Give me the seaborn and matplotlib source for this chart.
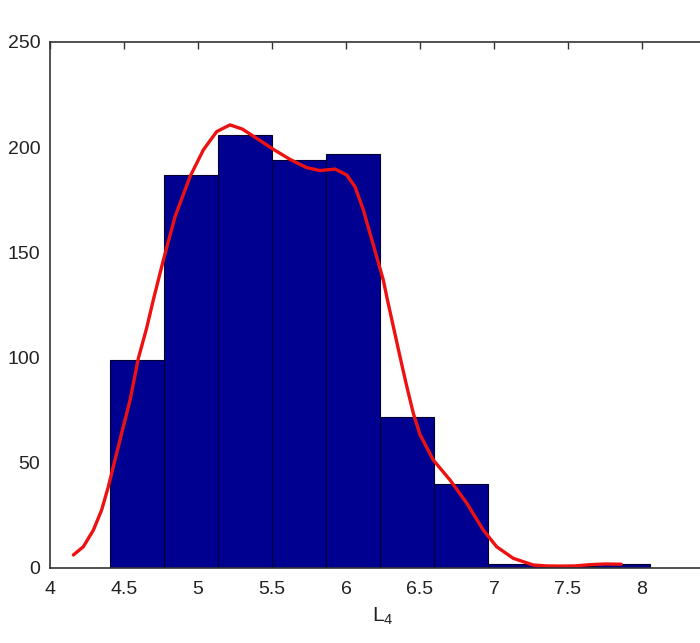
import matplotlib
matplotlib.use('Agg')
import matplotlib.pyplot as plt
import seaborn as sns

# histogram bins
bin_edges = [4.405, 4.77, 5.135, 5.5, 5.865, 6.23, 6.595, 6.96, 7.325, 7.69, 8.054]
bin_counts = [99, 187, 206, 194, 197, 72, 40, 2, 1, 2]

# red density curve (scaled to counts)
curve_x = [4.158, 4.225, 4.293, 4.349, 4.394, 4.439, 4.484, 4.541, 4.597, 4.653,
           4.698, 4.766, 4.845, 4.946, 5.036, 5.126, 5.216, 5.300, 5.397, 5.509,
           5.622, 5.734, 5.824, 5.926, 6.005, 6.061, 6.117, 6.162, 6.207, 6.252,
           6.28, 6.32, 6.365, 6.41, 6.455, 6.5, 6.59, 6.703, 6.816, 6.928,
           7.018, 7.13, 7.266, 7.35, 7.45, 7.55, 7.65, 7.75, 7.86]
curve_y = [6.2, 10.1, 18, 27.6, 38.6, 51.3, 64, 79.8, 99.7, 114,
           127.4, 146.4, 167, 186, 198.7, 207.4, 210.6, 208.6, 204.2, 199,
           194.2, 190.3, 188.9, 189.6, 186.8, 181.2, 170.2, 159.1, 148, 136.9,
           127.4, 114.7, 100.4, 86.5, 73.5, 63.4, 51.3, 41.8, 30.8, 18,
           10.1, 4.6, 1.4, 1.0, 0.9, 1.0, 1.6, 1.9, 1.8]

x_ticks = [4, 4.5, 5, 5.5, 6, 6.5, 7, 7.5, 8, 8.5]
x_labels = ['4', '4.5', '5', '5.5', '6', '6.5', '7', '7.5', '8', '']
y_ticks = [0, 50, 100, 150, 200, 250]

sns.set_style('white')
plt.rcParams['font.family'] = ['Liberation Sans', 'DejaVu Sans']
plt.rcParams['mathtext.fontset'] = 'custom'
plt.rcParams['mathtext.rm'] = 'Liberation Sans'

fig = plt.figure(figsize=(7, 6.43), dpi=100)
# axes runs off the right edge, as in the cropped original
ax = fig.add_axes([50 / 700, 75 / 643, 666 / 700, 526 / 643])

centers = [(bin_edges[i] + bin_edges[i + 1]) / 2 for i in range(len(bin_counts))]
sns.histplot(x=centers, weights=bin_counts, bins=bin_edges, color='#000090',
             edgecolor='#000030', linewidth=0.8, alpha=1, ax=ax)
sns.lineplot(x=curve_x, y=curve_y, sort=False, color='#ee1111', linewidth=2.4, ax=ax)

ax.set_xlim(4, 8.5)
ax.set_ylim(0, 250)
ax.set_xticks(x_ticks)
ax.set_xticklabels(x_labels)
ax.set_yticks(y_ticks)
ax.tick_params(direction='in', length=5, width=1, color='#333333',
               top=True, right=True, labelsize=14, labelcolor='#222222')
ax.tick_params(axis='x', pad=9)
ax.tick_params(axis='y', pad=7)
for s in ax.spines.values():
    s.set_color('#333333')
    s.set_linewidth(1.2)
ax.set_xlabel(r'$\mathregular{L_4}$', fontsize=15, color='#222222', labelpad=6)
ax.set_ylabel('')

fig.savefig('out.png', dpi=100)
